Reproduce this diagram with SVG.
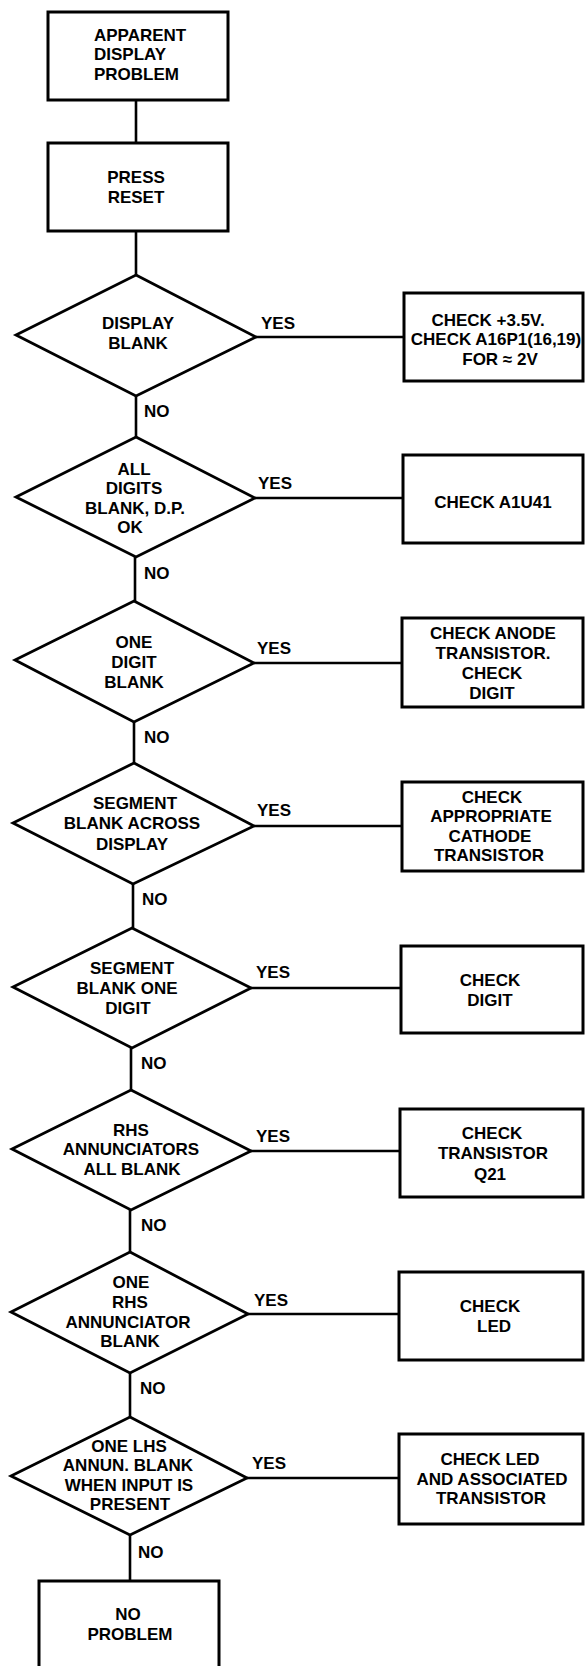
<svg xmlns="http://www.w3.org/2000/svg" width="585" height="1666" viewBox="0 0 585 1666">
<style>
.box{fill:#fff;stroke:#000;stroke-width:3}
.dia{fill:#fff;stroke:#000;stroke-width:2.8;stroke-linejoin:miter}
.ln{fill:none;stroke:#000;stroke-width:2.6}
text{font-family:"Liberation Sans",Arial,Helvetica,sans-serif;font-weight:bold;font-size:17px;fill:#000}
.c{text-anchor:middle}
</style>
<rect width="585" height="1666" fill="#fff"/>
<g id="connectors">
<path class="ln" d="M136,100 V143 M136,231 V275"/>
<path class="ln" d="M256,337 H404"/>
<path class="ln" d="M136,396 V437"/>
<path class="ln" d="M255,498 H403"/>
<path class="ln" d="M135,557 V601"/>
<path class="ln" d="M254,663 H402"/>
<path class="ln" d="M134,722 V763"/>
<path class="ln" d="M254,826 H402"/>
<path class="ln" d="M133,884 V928"/>
<path class="ln" d="M251,988 H401"/>
<path class="ln" d="M131,1048 V1090"/>
<path class="ln" d="M251,1151 H400"/>
<path class="ln" d="M130,1210 V1252"/>
<path class="ln" d="M248,1314 H399"/>
<path class="ln" d="M130,1373 V1417"/>
<path class="ln" d="M247,1478 H399"/>
<path class="ln" d="M130,1535 V1581"/>
<text x="261" y="329">YES</text>
<text x="144" y="417">NO</text>
<text x="258" y="489">YES</text>
<text x="144" y="579">NO</text>
<text x="257" y="654">YES</text>
<text x="144" y="743">NO</text>
<text x="257" y="816">YES</text>
<text x="142" y="905">NO</text>
<text x="256" y="978">YES</text>
<text x="141" y="1069">NO</text>
<text x="256" y="1142">YES</text>
<text x="141" y="1231">NO</text>
<text x="254" y="1306">YES</text>
<text x="140" y="1394">NO</text>
<text x="252" y="1469">YES</text>
<text x="138" y="1558">NO</text>
</g>
<g id="start">
<rect class="box" x="48" y="12" width="180" height="88"/>
<text x="94" y="41">APPARENT</text>
<text x="94" y="60">DISPLAY</text>
<text x="94" y="80">PROBLEM</text>
</g>
<g id="press-reset">
<rect class="box" x="48" y="143" width="180" height="88"/>
<text class="c" x="136" y="183">PRESS</text>
<text class="c" x="136" y="203">RESET</text>
</g>
<g id="d1">
<polygon class="dia" points="136,275 256,337 136,396 16,335"/>
<text class="c" x="138" y="329">DISPLAY</text>
<text class="c" x="138" y="349">BLANK</text>
</g>
<g id="r1">
<rect class="box" x="404" y="293" width="179" height="88"/>
<text class="c" x="488" y="326">CHECK +3.5V.</text>
<text class="c" x="496" y="345">CHECK A16P1(16,19)</text>
<text class="c" x="500" y="365">FOR ≈ 2V</text>
</g>
<g id="d2">
<polygon class="dia" points="136,437 255,498 136,557 16,497"/>
<text class="c" x="134" y="475">ALL</text>
<text class="c" x="134" y="494">DIGITS</text>
<text class="c" x="135" y="514">BLANK, D.P.</text>
<text class="c" x="130" y="533">OK</text>
</g>
<g id="r2">
<rect class="box" x="403" y="455" width="180" height="88"/>
<text class="c" x="493" y="508">CHECK A1U41</text>
</g>
<g id="d3">
<polygon class="dia" points="134,601 254,663 134,722 15,660"/>
<text class="c" x="134" y="648">ONE</text>
<text class="c" x="134" y="668">DIGIT</text>
<text class="c" x="134" y="688">BLANK</text>
</g>
<g id="r3">
<rect class="box" x="402" y="618" width="181" height="89"/>
<text class="c" x="493" y="639">CHECK ANODE</text>
<text class="c" x="493" y="659">TRANSISTOR.</text>
<text class="c" x="492" y="679">CHECK</text>
<text class="c" x="492" y="699">DIGIT</text>
</g>
<g id="d4">
<polygon class="dia" points="134,763 254,826 133,884 13,823"/>
<text class="c" x="135" y="809">SEGMENT</text>
<text class="c" x="132" y="829">BLANK ACROSS</text>
<text class="c" x="132" y="850">DISPLAY</text>
</g>
<g id="r4">
<rect class="box" x="402" y="782" width="181" height="89"/>
<text class="c" x="492" y="803">CHECK</text>
<text class="c" x="491" y="822">APPROPRIATE</text>
<text class="c" x="490" y="842">CATHODE</text>
<text class="c" x="489" y="861">TRANSISTOR</text>
</g>
<g id="d5">
<polygon class="dia" points="132,928 251,988 132,1048 13,987"/>
<text class="c" x="132" y="974">SEGMENT</text>
<text class="c" x="127" y="994">BLANK ONE</text>
<text class="c" x="128" y="1014">DIGIT</text>
</g>
<g id="r5">
<rect class="box" x="401" y="946" width="182" height="87"/>
<text class="c" x="490" y="986">CHECK</text>
<text class="c" x="490" y="1006">DIGIT</text>
</g>
<g id="d6">
<polygon class="dia" points="131,1090 251,1151 131,1210 12,1149"/>
<text class="c" x="131" y="1136">RHS</text>
<text class="c" x="131" y="1155">ANNUNCIATORS</text>
<text class="c" x="132" y="1175">ALL BLANK</text>
</g>
<g id="r6">
<rect class="box" x="400" y="1109" width="183" height="88"/>
<text class="c" x="492" y="1139">CHECK</text>
<text class="c" x="493" y="1159">TRANSISTOR</text>
<text class="c" x="490" y="1180">Q21</text>
</g>
<g id="d7">
<polygon class="dia" points="130,1252 248,1314 130,1373 11,1312"/>
<text class="c" x="131" y="1288">ONE</text>
<text class="c" x="130" y="1308">RHS</text>
<text class="c" x="128" y="1328">ANNUNCIATOR</text>
<text class="c" x="130" y="1347">BLANK</text>
</g>
<g id="r7">
<rect class="box" x="399" y="1272" width="184" height="88"/>
<text class="c" x="490" y="1312">CHECK</text>
<text class="c" x="494" y="1332">LED</text>
</g>
<g id="d8">
<polygon class="dia" points="130,1417 247,1478 130,1535 11,1476"/>
<text class="c" x="129" y="1452">ONE  LHS</text>
<text class="c" x="128" y="1471">ANNUN. BLANK</text>
<text class="c" x="129" y="1491">WHEN INPUT IS</text>
<text class="c" x="130" y="1510">PRESENT</text>
</g>
<g id="r8">
<rect class="box" x="399" y="1434" width="184" height="90"/>
<text class="c" x="490" y="1465">CHECK LED</text>
<text class="c" x="492" y="1485">AND ASSOCIATED</text>
<text class="c" x="491" y="1504">TRANSISTOR</text>
</g>
<g id="end">
<rect class="box" x="39" y="1581" width="180" height="100"/>
<text class="c" x="128" y="1620">NO</text>
<text class="c" x="130" y="1640">PROBLEM</text>
</g>
</svg>
